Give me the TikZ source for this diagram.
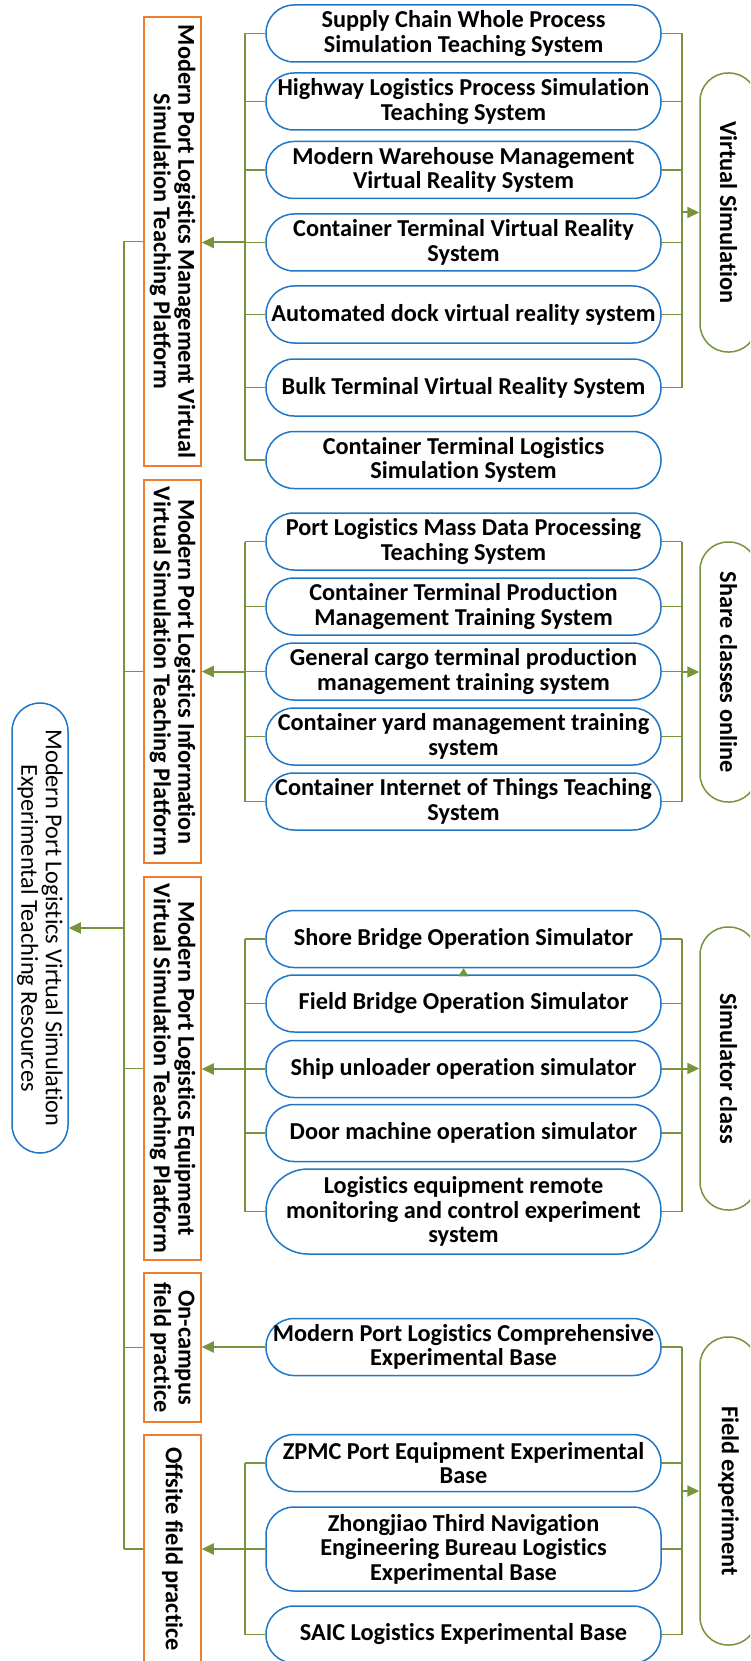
\documentclass[tikz,border=0pt]{standalone}
\usepackage{fontspec}
\setmainfont{Carlito}[Ligatures=NoCommon]
\usetikzlibrary{arrows.meta}

\definecolor{linkgreen}{HTML}{77933C}
\definecolor{sysblue}{HTML}{1F77C6}
\definecolor{platorange}{HTML}{ED7D31}

\newcommand{\labelfont}{\fontsize{24.3}{24.5}\selectfont}

\tikzset{
  sysbox/.style={draw=sysblue, line width=1.5pt, rounded corners=28pt,
    minimum width=395pt, minimum height=57pt, inner sep=0pt, align=center,
    font=\bfseries\labelfont},
  tallbox/.style={minimum height=85pt, rounded corners=42pt},
  platbox/.style={draw=platorange, line width=1.5pt, minimum height=57pt,
    inner sep=0pt, align=center, rotate=-90,
    font=\bfseries\labelfont},
  catbox/.style={draw=linkgreen, line width=1.5pt, rounded corners=28pt,
    minimum height=57pt, inner sep=0pt, align=center, rotate=-90,
    font=\bfseries\labelfont},
  rootbox/.style={draw=sysblue, line width=1.5pt, rounded corners=28pt,
    minimum height=56pt, inner sep=0pt, align=center, rotate=-90,
    font=\labelfont},
  busline/.style={draw=linkgreen, line width=1.5pt},
  feedarrow/.style={draw=linkgreen, line width=2pt,
    -{Triangle[length=12pt,width=11pt]}, color=linkgreen},
  smalltip/.style={draw=linkgreen, line width=1pt,
    -{Triangle[length=8pt,width=10pt]}, color=linkgreen}
}

\begin{document}
\begin{tikzpicture}[x=1pt,y=-1pt]
\useasboundingbox (0,0) rectangle (750,1661);
\clip (0,0) rectangle (750,1661);

% bus positions
\coordinate (S) at (124,0);
\coordinate (L) at (245,0);
\coordinate (R) at (682,0);

% root
\node[rootbox, minimum width=450pt] (root) at (40,928)
  {Modern Port Logistics Virtual Simulation\\Experimental Teaching Resources};

% platforms
\node[platbox, minimum width=449pt] (p1) at (172.5,241.5)
  {Modern Port Logistics Management Virtual\\Simulation Teaching Platform};
\node[platbox, minimum width=383pt] (p2) at (172.5,671.5)
  {Modern Port Logistics Information\\Virtual Simulation Teaching Platform};
\node[platbox, minimum width=383pt] (p3) at (172.5,1068.5)
  {Modern Port Logistics Equipment\\Virtual Simulation Teaching Platform};
\node[platbox, minimum width=149pt] (p4) at (172.5,1347.5)
  {On-campus\\field practice};
\node[platbox, minimum width=228pt] (p5) at (172.5,1549)
  {Offsite field practice};

% categories
\node[catbox, minimum width=279pt] (c1) at (728.5,212.5) {Virtual Simulation};
\node[catbox, minimum width=260pt] (c2) at (728.5,672) {Share classes online};
\node[catbox, minimum width=283pt] (c3) at (728.5,1068.5) {Simulator class};
\node[catbox, minimum width=308pt] (c4) at (728.5,1491) {Field experiment};

% group 1
\node[sysbox] (b11) at (463.5,33.5) {Supply Chain Whole Process\\Simulation Teaching System};
\node[sysbox] (b12) at (463.5,101.5) {Highway Logistics Process Simulation\\Teaching System};
\node[sysbox] (b13) at (463.5,170) {Modern Warehouse Management\\Virtual Reality System};
\node[sysbox] (b14) at (463.5,242.5) {Container Terminal Virtual Reality\\System};
\node[sysbox] (b15) at (463.5,314.5) {Automated dock virtual reality system};
\node[sysbox] (b16) at (463.5,387.5) {Bulk Terminal Virtual Reality System};
\node[sysbox] (b17) at (463.5,460) {Container Terminal Logistics\\Simulation System};

% group 2
\node[sysbox] (b21) at (463.5,541.5) {Port Logistics Mass Data Processing\\Teaching System};
\node[sysbox] (b22) at (463.5,606.5) {Container Terminal Production\\Management Training System};
\node[sysbox] (b23) at (463.5,671.5) {General cargo terminal production\\management training system};
\node[sysbox] (b24) at (463.5,736.5) {Container yard management training\\system};
\node[sysbox] (b25) at (463.5,801.5) {Container Internet of Things Teaching\\System};

% group 3
\node[sysbox] (b31) at (463.5,939) {Shore Bridge Operation Simulator};
\node[sysbox] (b32) at (463.5,1003.5) {Field Bridge Operation Simulator};
\node[sysbox] (b33) at (463.5,1069) {Ship unloader operation simulator};
\node[sysbox] (b34) at (463.5,1133) {Door machine operation simulator};
\node[sysbox, tallbox] (b35) at (463.5,1211.5) {Logistics equipment remote\\monitoring and control experiment\\system};

% group 4
\node[sysbox] (b41) at (463.5,1347) {Modern Port Logistics Comprehensive\\Experimental Base};
\node[sysbox] (b42) at (463.5,1463) {ZPMC Port Equipment Experimental\\Base};
\node[sysbox, minimum height=84pt] (b43) at (463.5,1549) {Zhongjiao Third Navigation\\Engineering Bureau Logistics\\Experimental Base};
\node[sysbox] (b44) at (463.5,1634.5) {SAIC Logistics Experimental Base};

% spine to the platforms
\draw[busline] (p1.south -| S) -- (p5.south -| S);
\foreach \p in {p1,p2,p3,p4,p5}
  \draw[busline] (\p.south -| S) -- (\p.south);
\draw[feedarrow] (root.north -| S) -- (root.north);

% left buses
\foreach \b in {b11,b12,b13,b14,b15,b16,b17,b21,b22,b23,b24,b25,b31,b32,b33,b34,b35,b42,b43,b44}
  \draw[busline] (\b.west) -- (\b.west -| L);
\draw[busline] (b11.west -| L) -- (b17.west -| L);
\draw[busline] (b21.west -| L) -- (b25.west -| L);
\draw[busline] (b31.west -| L) -- (b35.west -| L);
\draw[busline] (b42.west -| L) -- (b44.west -| L);
\draw[feedarrow] (b14.west -| L) -- (b14.west -| p1.north);
\draw[feedarrow] (b23.west -| L) -- (b23.west -| p2.north);
\draw[feedarrow] (b33.west -| L) -- (b33.west -| p3.north);
\draw[feedarrow] (b41.west) -- (b41.west -| p4.north);
\draw[feedarrow] (b43.west -| L) -- (b43.west -| p5.north);

% right buses
\foreach \b in {b11,b12,b13,b14,b15,b16,b21,b22,b23,b24,b25,b31,b32,b33,b34,b35,b41,b42,b43,b44}
  \draw[busline] (\b.east) -- (\b.east -| R);
\draw[busline] (b11.east -| R) -- (b16.east -| R);
\draw[busline] (b21.east -| R) -- (b25.east -| R);
\draw[busline] (b31.east -| R) -- (b35.east -| R);
\draw[busline] (b41.east -| R) -- (b44.east -| R);
\draw[feedarrow] (c1.south -| R) -- (c1.south);
\draw[feedarrow] (c2.south -| R) -- (c2.south);
\draw[feedarrow] (c3.south -| R) -- (c3.south);
\draw[feedarrow] (c4.south -| R) -- (c4.south);

% small tip between the bridge simulators
\draw[smalltip] (b32.north) -- (b31.south);
\end{tikzpicture}
\end{document}
